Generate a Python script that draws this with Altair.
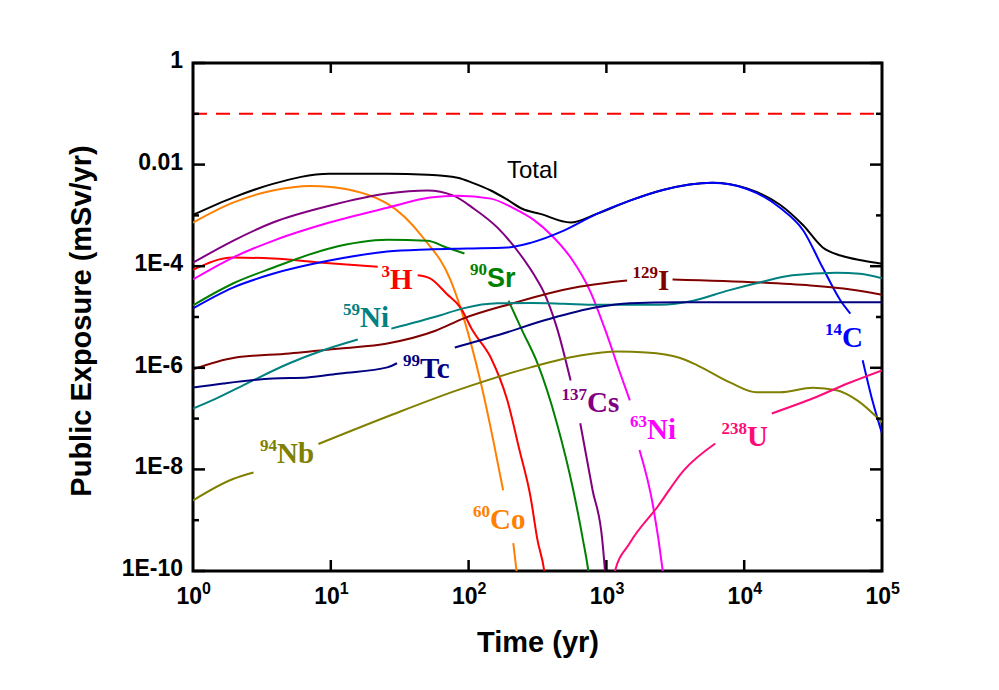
import altair as alt
import pandas as pd

# ---------------- data (time in yr, exposure in mSv/yr) ----------------
TOTAL_T = [1, 1.95, 3.8, 9.77, 25.7, 50.1, 83.2, 107, 145, 191, 245, 331, 550, 851, 1479, 2570, 5888, 10470, 18200, 26900, 37150, 50100, 72400, 100000]
TOTAL_D = [1.02e-3, 2.24e-3, 4.17e-3, 6.61e-3, 6.61e-3, 6.31e-3, 5.5e-3, 4.37e-3, 3.09e-3, 2.04e-3, 1.35e-3, 1.07e-3, 7.24e-4, 1.07e-3, 1.95e-3, 3.16e-3, 4.37e-3, 3.39e-3, 1.62e-3, 6.31e-4, 2.34e-4, 1.62e-4, 1.29e-4, 1.12e-4]

CO60_T = [[1, 1.95, 3.8, 7.1, 10, 25.7, 46.8, 74.1, 87.1, 123, 151, 178], [211, 234]]
CO60_D = [[7.2e-4, 1.78e-3, 3.09e-3, 3.80e-3, 3.63e-3, 1.70e-3, 3.63e-4, 5.25e-5, 1.55e-5, 4.90e-7, 3.72e-8, 3.89e-9], [3.55e-10, 3.2e-11]]

H3_T = [[1, 1.95, 3.8, 8.71, 21.9], [42.7, 52.5, 69.2, 87.1, 107, 145, 191, 234, 282, 316, 355, 372]]
H3_D = [[8.5e-5, 1.48e-4, 1.41e-4, 1.17e-4, 9.8e-5], [6.6e-5, 5.75e-5, 2.88e-5, 1.55e-5, 5.4e-6, 1.58e-6, 2.29e-7, 2.4e-8, 2.8e-9, 4.1e-10, 9.5e-11, 3.2e-11]]

CS137_T = [[1, 1.95, 3.8, 9.77, 25.7, 50.1, 77.6, 107, 162, 234, 316, 347, 437, 550], [646, 794, 933, 977, 1000]]
CS137_D = [[1.17e-4, 3.16e-4, 7.24e-4, 1.55e-3, 2.69e-3, 3.09e-3, 2.45e-3, 1.41e-3, 5.75e-4, 1.78e-4, 5.25e-5, 3.31e-5, 6.17e-6, 5.6e-7], [8.1e-8, 3.89e-9, 4.1e-10, 9.5e-11, 3.2e-11]]

NI63_T = [[1, 1.95, 3.8, 9.77, 25.7, 52.5, 83.2, 145, 209, 302, 389, 550, 759, 1000, 1259, 1479], [1738, 2188, 2570, 2692]]
NI63_D = [[5.5e-5, 1.48e-4, 3.16e-4, 7.24e-4, 1.41e-3, 2.24e-3, 2.45e-3, 2.14e-3, 1.41e-3, 7.9e-4, 4.37e-4, 1.48e-4, 3.31e-5, 4.8e-6, 7.8e-7, 2.29e-7], [2.4e-8, 1.82e-9, 9.5e-11, 3.2e-11]]

SR90_T = [[1, 1.95, 3.8, 9.77, 25.7, 50.1, 69.2, 93.3], [195, 245, 316, 437, 575, 676, 741, 776]]
SR90_D = [[1.7e-5, 4.57e-5, 9.3e-5, 2.24e-4, 3.31e-4, 3.16e-4, 2.34e-4, 1.78e-4], [2.09e-5, 5.4e-6, 1.23e-6, 8.1e-8, 3.89e-9, 4.1e-10, 9.5e-11, 3.2e-11]]

C14_T = [[1, 1.95, 3.8, 9.77, 25.7, 50.1, 97.7, 191, 282, 490, 851, 1479, 2570, 5888, 10470, 18200, 26900, 37150, 50100, 58900], [72400, 85100, 100000]]
C14_D = [[1.48e-5, 3.8e-5, 7.08e-5, 1.29e-4, 1.95e-4, 2.14e-4, 2.24e-4, 2.34e-4, 2.88e-4, 5.0e-4, 1.07e-3, 1.95e-3, 3.16e-3, 4.37e-3, 3.31e-3, 1.41e-3, 5.0e-4, 9.3e-5, 2.09e-5, 1.17e-5], [1.41e-6, 2.29e-7, 5.1e-8]]

I129_T = [[1, 2.0, 5.01, 11.7, 25.7, 57.5, 91.2, 209, 372, 646, 1413], [3020, 12900, 30200, 52500, 100000]]
I129_D = [[9.3e-7, 1.58e-6, 1.91e-6, 2.4e-6, 3.02e-6, 5.37e-6, 9.3e-6, 1.86e-5, 2.88e-5, 3.98e-5, 5.25e-5], [5.5e-5, 4.79e-5, 4.17e-5, 3.63e-5, 2.75e-5]]

NI59_T = [[1, 1.48, 2.45, 5.01, 8.71, 15.7], [27.5, 61.7, 91.2, 162, 282, 490, 851, 1479, 2455, 4266, 7586, 12900, 22400, 46800, 69200, 100000]]
NI59_D = [[1.58e-7, 2.51e-7, 4.9e-7, 1.23e-6, 2.19e-6, 3.6e-6], [5.9e-6, 1.07e-5, 1.48e-5, 1.86e-5, 1.88e-5, 1.82e-5, 1.74e-5, 1.74e-5, 1.74e-5, 2.09e-5, 3.31e-5, 4.79e-5, 6.61e-5, 7.41e-5, 7.08e-5, 5.75e-5]]

TC99_T = [[1, 1.66, 3.8, 6.76, 11.7, 25.7, 30.2], [79.4, 162, 372, 851, 1479, 3388, 18200, 100000]]
TC99_D = [[4.07e-7, 4.9e-7, 6.17e-7, 6.46e-7, 7.76e-7, 1.02e-6, 1.23e-6], [2.51e-6, 4.37e-6, 8.9e-6, 1.55e-5, 1.86e-5, 1.95e-5, 1.95e-5, 1.95e-5]]

NB94_T = [[1, 1.95, 2.75], [8.13, 26.9, 83.2, 282, 646, 1202, 1950, 3388, 4571, 7943, 12300, 18200, 31600, 46800, 66100, 100000]]
NB94_D = [[2.45e-9, 6.46e-9, 8.7e-9], [3.16e-8, 1.15e-7, 3.63e-7, 1.02e-6, 1.74e-6, 2.09e-6, 2.0e-6, 1.58e-6, 1.12e-6, 5.1e-7, 3.31e-7, 3.31e-7, 4.07e-7, 3.63e-7, 2.29e-7, 8.5e-8]]

U238_T = [[1096, 1148, 1479, 2344, 3631, 6166], [15850, 31600, 56200, 100000]]
U238_D = [[3.2e-11, 9.5e-11, 3.55e-10, 1.82e-9, 9.5e-9, 3.24e-8], [1.26e-7, 2.51e-7, 4.9e-7, 8.9e-7]]

LIMIT = 0.1

SERIES = ["Total", "60Co", "3H", "137Cs", "63Ni", "90Sr", "14C", "129I", "59Ni", "99Tc", "94Nb", "238U"]
COLORS = ["#000000", "#FF8000", "#FF0000", "#800080", "#FF00FF", "#008000", "#0000FF", "#800000", "#008080", "#000080", "#808000", "#FF0A78"]
SEGS_T = [[TOTAL_T], CO60_T, H3_T, CS137_T, NI63_T, SR90_T, C14_T, I129_T, NI59_T, TC99_T, NB94_T, U238_T]
SEGS_D = [[TOTAL_D], CO60_D, H3_D, CS137_D, NI63_D, SR90_D, C14_D, I129_D, NI59_D, TC99_D, NB94_D, U238_D]

# labels: position = junction between mass number and symbol, at symbol baseline
LAB_SUP = ["3", "137", "63", "60", "129", "59", "99", "94", "238", "14", "90"]
LAB_SYM = ["H", "Cs", "Ni", "Co", "I", "Ni", "Tc", "Nb", "U", "C", "Sr"]
LAB_T = [26.9, 723, 1972, 143, 2366, 16.3, 44.4, 4.07, 10470, 51300, 136]
LAB_D = [3.63e-5, 1.32e-7, 3.88e-8, 6.59e-10, 3.47e-5, 6.49e-6, 6.44e-7, 1.31e-8, 2.83e-8, 2.51e-6, 3.97e-5]
LAB_SERIES = ["3H", "137Cs", "63Ni", "60Co", "129I", "59Ni", "99Tc", "94Nb", "238U", "14C", "90Sr"]

TOTAL_LABEL = ("Total", 190, 5.54e-3)

X_TICKS = [1, 10, 100, 1000, 10000, 100000]
X_EXP = ["0", "1", "2", "3", "4", "5"]
Y_LABELED = [1, 1e-2, 1e-4, 1e-6, 1e-8, 1e-10]
Y_TEXT = ["1", "0.01", "1E-4", "1E-6", "1E-8", "1E-10"]
Y_MINOR = [1e-1, 1e-3, 1e-5, 1e-7, 1e-9]
X_INNER = [10, 100, 1000, 10000]
X_TITLE = "Time (yr)"
Y_TITLE = "Public Exposure (mSv/yr)"

# ---------------- build ----------------
rows = []
for name, st, sd in zip(SERIES, SEGS_T, SEGS_D):
    for k, (ts, ds) in enumerate(zip(st, sd)):
        for i, (t, d) in enumerate(zip(ts, ds)):
            rows.append({"series": name, "seg": f"{name}_{k}", "t": t, "d": d, "i": i})
df = pd.DataFrame(rows)

col_of = dict(zip(SERIES, COLORS))
lab = pd.DataFrame({"t": LAB_T, "d": LAB_D, "sup": LAB_SUP, "sym": LAB_SYM,
                    "col": [col_of[s] for s in LAB_SERIES]})
lab_serif = lab[lab["sym"] != "Sr"]
lab_sans = lab[lab["sym"] == "Sr"]

W, H = 689, 508
xs = alt.Scale(type="log", domain=[1, 1e5])
ys = alt.Scale(type="log", domain=[1e-10, 1])
SANS = "Liberation Sans"
SERIF = "Liberation Serif"

XN = alt.X("t:Q", scale=xs, axis=None)
YN = alt.Y("d:Q", scale=ys, axis=None)

lines = alt.Chart(df).mark_line(strokeWidth=2, clip=True, interpolate="monotone").encode(
    x=XN, y=YN,
    color=alt.Color("series:N", scale=alt.Scale(domain=SERIES, range=COLORS), legend=None),
    detail="seg:N",
    order="i:Q",
)

limit = alt.Chart(pd.DataFrame({"d": [LIMIT]})).mark_rule(
    color="#FF0000", strokeDash=[14, 9], strokeWidth=2).encode(
    y=YN, x=alt.value(0), x2=alt.value(W))

ymaj = pd.DataFrame({"d": Y_LABELED, "lab": Y_TEXT})
ymin = pd.DataFrame({"d": Y_MINOR})
xin = pd.DataFrame({"t": X_INNER})
tk = dict(color="black", strokeWidth=2.5)
ticks = [
    alt.Chart(ymaj).mark_rule(**tk).encode(y=YN, x=alt.value(0), x2=alt.value(12)),
    alt.Chart(ymaj).mark_rule(**tk).encode(y=YN, x=alt.value(W - 12), x2=alt.value(W)),
    alt.Chart(ymin).mark_rule(**tk).encode(y=YN, x=alt.value(0), x2=alt.value(6)),
    alt.Chart(ymin).mark_rule(**tk).encode(y=YN, x=alt.value(W - 6), x2=alt.value(W)),
    alt.Chart(xin).mark_rule(**tk).encode(x=XN, y=alt.value(0), y2=alt.value(10)),
    alt.Chart(xin).mark_rule(**tk).encode(x=XN, y=alt.value(H - 11), y2=alt.value(H)),
]

ylab = alt.Chart(ymaj).mark_text(font=SANS, fontSize=23, fontWeight="bold", color="black",
                                 align="right", baseline="middle", dy=-2).encode(
    y=YN, x=alt.value(-10), text="lab:N")

xlab = pd.DataFrame({"t": X_TICKS, "exp": X_EXP})
xten = alt.Chart(xlab).mark_text(font=SANS, fontSize=23, fontWeight="bold", color="black",
                                 align="right", baseline="alphabetic", dx=9, dy=33).encode(
    x=XN, y=alt.value(H), text=alt.value("10"))
xexp = alt.Chart(xlab).mark_text(font=SANS, fontSize=16, fontWeight="bold", color="black",
                                 align="left", baseline="alphabetic", dx=9, dy=23).encode(
    x=XN, y=alt.value(H), text="exp:N")

xtitle = alt.Chart(pd.DataFrame({"s": [X_TITLE]})).mark_text(
    font=SANS, fontSize=29, fontWeight="bold", color="black", align="center", baseline="alphabetic").encode(
    x=alt.value(345), y=alt.value(H + 81), text="s:N")
ytitle = alt.Chart(pd.DataFrame({"s": [Y_TITLE]})).mark_text(
    font=SANS, fontSize=29, fontWeight="bold", color="black", align="center", baseline="alphabetic",
    angle=270).encode(
    x=alt.value(-102), y=alt.value(258), text="s:N")

sup_t = alt.Chart(lab).mark_text(font=SERIF, fontSize=17, fontWeight="bold", align="right",
                                 baseline="alphabetic", dy=-12).encode(
    x=XN, y=YN, text="sup:N", color=alt.Color("col:N", scale=None))
sym_serif = alt.Chart(lab_serif).mark_text(font=SERIF, fontSize=29, fontWeight="bold", align="left",
                                           baseline="alphabetic").encode(
    x=XN, y=YN, text="sym:N", color=alt.Color("col:N", scale=None))
sym_sans = alt.Chart(lab_sans).mark_text(font=SANS, fontSize=27, fontWeight="bold", align="left",
                                         baseline="alphabetic").encode(
    x=XN, y=YN, text="sym:N", color=alt.Color("col:N", scale=None))
total_txt = alt.Chart(pd.DataFrame({"t": [TOTAL_LABEL[1]], "d": [TOTAL_LABEL[2]], "s": [TOTAL_LABEL[0]]})).mark_text(
    font=SANS, fontSize=24, color="black", align="left", baseline="alphabetic").encode(
    x=XN, y=YN, text="s:N")

chart = alt.layer(lines, limit, *ticks, ylab, xten, xexp, xtitle, ytitle,
                  sup_t, sym_serif, sym_sans, total_txt).properties(
    width=W, height=H,
    autosize=alt.AutoSizeParams(type="none"),
    padding={"left": 185, "top": 55, "right": 109, "bottom": 111},
    background="white",
).configure_view(stroke="black", strokeWidth=3)

chart.save("out.html", embed_options={"renderer": "svg", "actions": False})
